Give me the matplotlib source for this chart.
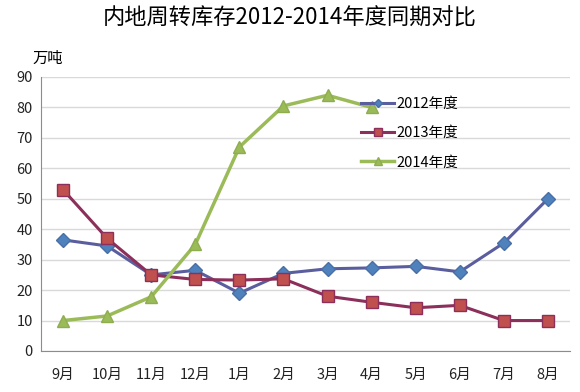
import matplotlib.pyplot as plt

plt.rcParams['font.family'] = ['Noto Sans CJK SC', 'DejaVu Sans']

months = ["9月", "10月", "11月", "12月", "1月", "2月", "3月", "4月", "5月", "6月", "7月", "8月"]
y2012 = [36.5, 34.5, 25, 26.5, 19, 25.5, 27, 27.3, 27.8, 26, 35.5, 50]
y2013 = [53, 37, 25, 23.5, 23.3, 23.7, 18, 16, 14.2, 15, 10, 10]
y2014 = [10, 11.5, 17.8, 35, 67, 80.5, 84, 80]

fig = plt.figure(figsize=(5.8, 3.92), dpi=100)
ax = fig.add_axes([41 / 580, 1 - 351 / 392, 529 / 580, 274 / 392])

x = list(range(len(months)))
ax.plot(x, y2012, color="#5B5E9E", lw=2.2, marker="D", ms=7,
        mfc="#4F81BD", mec="#4A6FA5", label="2012年度", zorder=3)
ax.plot(x, y2013, color="#8C2F5B", lw=2.2, marker="s", ms=9,
        mfc="#C0504D", mec="#8C2F5B", label="2013年度", zorder=3)
ax.plot(x[:len(y2014)], y2014, color="#9BBB59", lw=2.5, marker="^", ms=9,
        mfc="#9BBB59", mec="#8EAD4F", label="2014年度", zorder=3)

ax.set_xlim(-0.5, 11.5)
ax.set_ylim(0, 90)
ax.set_yticks(range(0, 91, 10))
ax.set_xticks(x)
ax.set_xticklabels(months)
ax.grid(axis="y", color="#D9D9D9", lw=1)
ax.set_axisbelow(True)
ax.tick_params(length=0, labelsize=10.5, colors="#222222")
ax.tick_params(axis="x", pad=12)
ax.tick_params(axis="y", pad=6)
for s in ["top", "right"]:
    ax.spines[s].set_visible(False)
for s in ["left", "bottom"]:
    ax.spines[s].set_color("#8C8C8C")

ax.legend(loc="upper left", bbox_to_anchor=(0.58, 0.975), frameon=False,
          fontsize=10.5, markerscale=0.6, handlelength=2.3, labelspacing=1.05,
          handletextpad=0.1)

fig.text(32 / 580, 1 - 58 / 392, "万吨", fontsize=11, va="center")
fig.suptitle("内地周转库存2012-2014年度同期对比", y=1 - 18 / 392, va="center",
             fontsize=16)

plt.savefig("out.png", dpi=100)
